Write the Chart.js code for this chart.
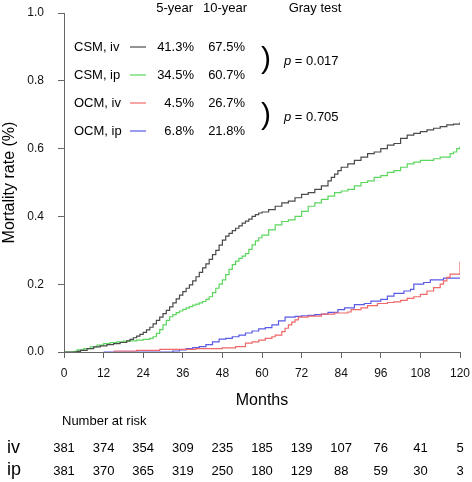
<!DOCTYPE html>
<html>
<head>
<meta charset="utf-8">
<script src="https://cdn.jsdelivr.net/npm/chart.js@4"></script>
<style>
  html, body { margin: 0; padding: 0; background: #fff; }
</style>
</head>
<body>
<canvas id="myChart" width="472" height="482"></canvas>
<script>
// cumulative incidence, step points (month, rate)
const csmIvMonths = [0, 4, 5, 7, 9, 11, 13, 15, 17, 19, 20, 21, 22, 23, 24, 25, 26, 27, 28, 29, 30, 31, 32, 33, 34, 35, 36, 37, 38, 39, 40, 41, 42, 43, 44, 45, 46, 47, 48, 49, 50, 51, 52, 53, 54, 55, 56, 57, 58, 59, 60, 62, 64, 66, 68, 70, 72, 74, 76, 78, 80, 81, 82, 83, 84, 86, 88, 90, 92, 94, 96, 98, 100, 102, 104, 106, 108, 110, 112, 114, 116, 118, 120];
const csmIvRate = [0, 0.002, 0.005, 0.01, 0.015, 0.018, 0.022, 0.025, 0.028, 0.033, 0.037, 0.042, 0.047, 0.052, 0.058, 0.065, 0.073, 0.083, 0.093, 0.103, 0.113, 0.123, 0.133, 0.145, 0.157, 0.168, 0.178, 0.188, 0.198, 0.21, 0.222, 0.235, 0.248, 0.26, 0.273, 0.287, 0.3, 0.315, 0.33, 0.342, 0.35, 0.358, 0.365, 0.372, 0.38, 0.386, 0.392, 0.4, 0.405, 0.41, 0.413, 0.42, 0.43, 0.44, 0.445, 0.455, 0.465, 0.47, 0.48, 0.49, 0.505, 0.515, 0.525, 0.535, 0.545, 0.555, 0.565, 0.575, 0.585, 0.59, 0.6, 0.61, 0.615, 0.63, 0.64, 0.645, 0.65, 0.655, 0.66, 0.665, 0.67, 0.672, 0.678];

const csmIpMonths = [0, 3, 4, 6, 8, 10, 12, 14, 16, 18, 20, 22, 24, 26, 27, 28, 29, 30, 31, 32, 33, 34, 35, 36, 37, 38, 39, 40, 41, 42, 43, 44, 45, 46, 47, 48, 49, 50, 51, 52, 53, 54, 55, 56, 57, 58, 59, 60, 62, 64, 66, 68, 70, 72, 74, 76, 78, 80, 82, 84, 86, 88, 90, 92, 94, 96, 98, 100, 102, 104, 106, 108, 112, 114, 117, 118, 119, 120];
const csmIpRate = [0, 0.002, 0.006, 0.01, 0.015, 0.02, 0.025, 0.028, 0.03, 0.032, 0.033, 0.035, 0.037, 0.04, 0.045, 0.055, 0.066, 0.08, 0.093, 0.104, 0.11, 0.116, 0.121, 0.126, 0.13, 0.134, 0.138, 0.141, 0.145, 0.149, 0.155, 0.163, 0.175, 0.188, 0.2, 0.213, 0.228, 0.244, 0.258, 0.268, 0.276, 0.283, 0.29, 0.303, 0.316, 0.328, 0.337, 0.345, 0.36, 0.375, 0.385, 0.39, 0.4, 0.415, 0.43, 0.44, 0.45, 0.46, 0.47, 0.475, 0.48, 0.49, 0.5, 0.505, 0.515, 0.52, 0.53, 0.535, 0.545, 0.555, 0.56, 0.565, 0.57, 0.575, 0.585, 0.59, 0.6, 0.607];

const ocmIvMonths = [15, 22, 29, 40, 48, 52, 55, 57, 59, 61, 63, 64, 66, 67, 68, 69, 70, 71, 74, 78, 82, 86, 87, 90, 92, 95, 98, 100, 102, 104, 106, 108, 110, 112, 114, 115, 116, 117, 120];
const ocmIvRate = [0.003, 0.005, 0.008, 0.01, 0.012, 0.016, 0.026, 0.03, 0.035, 0.04, 0.045, 0.05, 0.06, 0.07, 0.08, 0.088, 0.095, 0.103, 0.106, 0.112, 0.115, 0.118, 0.125, 0.13, 0.137, 0.143, 0.146, 0.148, 0.152, 0.158, 0.163, 0.17, 0.18, 0.19, 0.2, 0.21, 0.22, 0.23, 0.267];

const ocmIpMonths = [12, 33, 35, 37, 39, 41, 43, 45, 47, 49, 51, 53, 55, 57, 59, 61, 63, 65, 67, 70, 72, 74, 76, 78, 80, 83, 85, 88, 91, 93, 96, 98, 100, 103, 105, 106, 109, 111, 115, 120];
const ocmIpRate = [0, 0.003, 0.006, 0.01, 0.013, 0.016, 0.022, 0.03, 0.038, 0.04, 0.045, 0.05, 0.056, 0.062, 0.068, 0.072, 0.08, 0.092, 0.103, 0.105, 0.107, 0.108, 0.11, 0.112, 0.117, 0.125, 0.13, 0.14, 0.143, 0.15, 0.155, 0.165, 0.173, 0.18, 0.185, 0.2, 0.205, 0.213, 0.218, 0.218];

const seriesNames = ['CSM, iv', 'CSM, ip', 'OCM, iv', 'OCM, ip'];
const fiveYear = ['41.3%', '34.5%', '4.5%', '6.8%'];
const tenYear = ['67.5%', '60.7%', '26.7%', '21.8%'];
const grayTest = ['0.017', '0.705'];

const riskMonths = [0, 12, 24, 36, 48, 60, 72, 84, 96, 108, 120];
const riskIv = [381, 374, 354, 309, 235, 185, 139, 107, 76, 41, 5];
const riskIp = [381, 370, 365, 319, 250, 180, 129, 88, 59, 30, 3];

const colors = ['#4a4a4a', '#5cd65c', '#f06868', '#5a5ae8'];
const FONT = '"Liberation Sans", Arial, sans-serif';

const toPts = (ms, vs) => ms.map((m, i) => ({ x: m, y: vs[i] }));

const annotations = {
  id: 'annotations',
  afterDraw(chart) {
    const ctx = chart.ctx;
    const xs = chart.scales.x;
    ctx.save();
    ctx.fillStyle = '#000';
    ctx.textBaseline = 'middle';
    ctx.font = '13px ' + FONT;

    // legend table header
    ctx.textAlign = 'right';
    ctx.fillText('5-year', 193, 8);
    ctx.fillText('10-year', 247, 8);
    ctx.textAlign = 'center';
    ctx.fillText('Gray test', 315, 8);

    const rowY = [47, 75, 103, 131];
    rowY.forEach((y, i) => {
      ctx.textAlign = 'left';
      ctx.fillText(seriesNames[i], 74, y);
      ctx.strokeStyle = colors[i];
      ctx.lineWidth = 1.2;
      ctx.beginPath();
      ctx.moveTo(130, y);
      ctx.lineTo(146, y);
      ctx.stroke();
      ctx.textAlign = 'right';
      ctx.fillText(fiveYear[i], 194, y);
      ctx.fillText(tenYear[i], 245, y);
    });

    // braces + p values
    [[rowY[0], rowY[1]], [rowY[2], rowY[3]]].forEach(([a, b], i) => {
      const mid = (a + b) / 2;
      ctx.textAlign = 'center';
      ctx.font = '30px ' + FONT;
      ctx.fillText(')', 266, mid - 1);
      ctx.textAlign = 'left';
      ctx.font = 'italic 13px ' + FONT;
      ctx.fillText('p', 284, mid);
      const w = ctx.measureText('p').width;
      ctx.font = '13px ' + FONT;
      ctx.fillText(' = ' + grayTest[i], 284 + w, mid);
    });

    // number at risk
    ctx.font = '13px ' + FONT;
    ctx.textAlign = 'left';
    ctx.fillText('Number at risk', 62, 421);
    ctx.font = '18px ' + FONT;
    ctx.fillText('iv', 7, 448);
    ctx.fillText('ip', 7, 470);
    ctx.font = '13px ' + FONT;
    ctx.textAlign = 'center';
    riskMonths.forEach((m, i) => {
      const x = xs.getPixelForValue(m);
      ctx.fillText(String(riskIv[i]), x, 448);
      ctx.fillText(String(riskIp[i]), x, 471);
    });
    ctx.restore();
  }
};

const mkSet = (label, pts, color) => ({
  label,
  data: pts,
  borderColor: color,
  backgroundColor: color,
  borderWidth: 1.2,
  pointRadius: 0,
  stepped: true,
  fill: false
});

new Chart(document.getElementById('myChart'), {
  type: 'line',
  data: {
    datasets: [
      mkSet('CSM, iv', toPts(csmIvMonths, csmIvRate), colors[0]),
      mkSet('CSM, ip', toPts(csmIpMonths, csmIpRate), colors[1]),
      mkSet('OCM, iv', toPts(ocmIvMonths, ocmIvRate), colors[2]),
      mkSet('OCM, ip', toPts(ocmIpMonths, ocmIpRate), colors[3])
    ]
  },
  options: {
    responsive: false,
    animation: false,
    layout: { padding: { top: 13, right: 12, left: 0, bottom: 70 } },
    plugins: {
      legend: { display: false },
      tooltip: { enabled: false }
    },
    scales: {
      x: {
        type: 'linear',
        min: 0,
        max: 120,
        afterFit: (s) => { s.height = 60; s.paddingLeft = 0; s.paddingRight = 0; },
        ticks: { stepSize: 12, color: '#111', padding: 8, font: { family: FONT, size: 12 } },
        grid: { drawOnChartArea: false, drawTicks: true, tickLength: 6, color: '#666' },
        border: { color: '#666' },
        title: { display: true, text: 'Months', color: '#000', font: { family: FONT, size: 16 }, padding: { top: 0, bottom: 2 } }
      },
      y: {
        min: 0,
        max: 1,
        afterFit: (s) => { s.width = 64; s.paddingTop = 0; s.paddingBottom = 0; },
        ticks: { stepSize: 0.2, color: '#111', padding: 14, font: { family: FONT, size: 12 },
          callback: (v) => v.toFixed(1) },
        grid: { drawOnChartArea: false, drawTicks: true, tickLength: 6, color: '#666' },
        border: { color: '#666' },
        title: { display: true, text: 'Mortality rate (%)', color: '#000', font: { family: FONT, size: 16 }, padding: { top: 0, bottom: 0 } }
      }
    }
  },
  plugins: [annotations]
});
</script>
</body>
</html>
